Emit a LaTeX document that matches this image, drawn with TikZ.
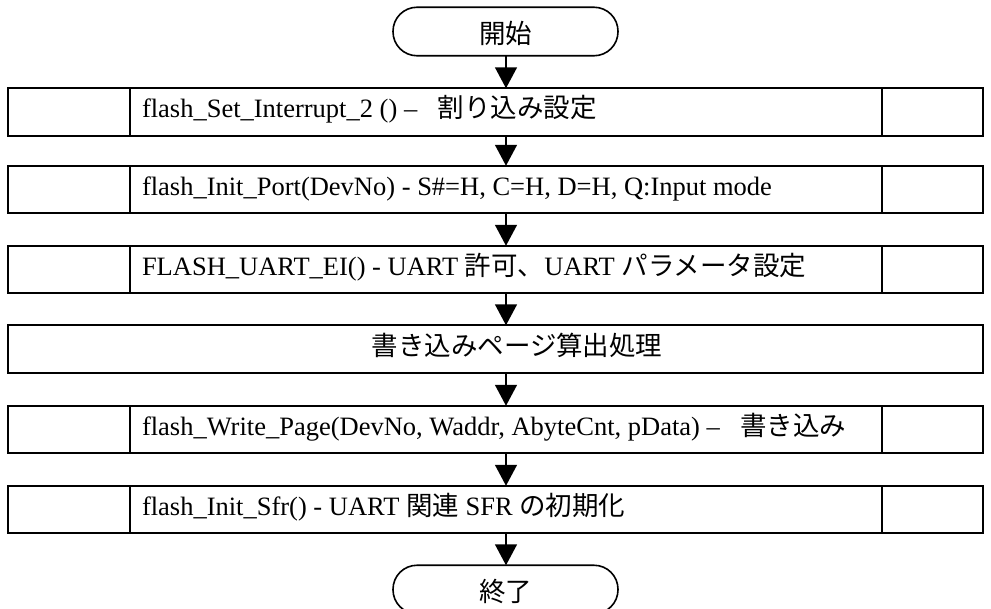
\documentclass[tikz,border=0pt]{standalone}
\usepackage{fontspec}
\setmainfont{Liberation Serif}
\newfontfamily\cjk{Noto Sans CJK JP}
\usetikzlibrary{arrows.meta}
\begin{document}
\begin{tikzpicture}[x=1pt,y=-1pt,
  every node/.style={inner sep=0pt,outer sep=0pt},
  rowbox/.style={draw,line width=1.6pt,minimum width=975pt,minimum height=47.5pt},
  term/.style={draw,line width=1.6pt,rounded corners=24pt,minimum width=225pt,minimum height=48.5pt},
  lbl/.style={anchor=base west,font=\fontsize{26.5pt}{30pt}\selectfont},
  clbl/.style={anchor=base,font=\fontsize{26.5pt}{30pt}\selectfont\cjk},
  arr/.style={line width=1.6pt,-{Triangle[width=22pt,length=21pt]}},
  divider/.style={line width=1.6pt}]
\useasboundingbox (0,0) rectangle (991,608);
\node[term] (start) at (505.5,31.5) {};
\node[clbl] (startt) at (505.5,43) {開始};
\node[rowbox] (b1) at (495.5,112) {};
\node[rowbox] (b2) at (495.5,189.5) {};
\node[rowbox] (b3) at (495.5,269.5) {};
\node[rowbox] (b4) at (495.5,349) {};
\node[rowbox] (b5) at (495.5,429.5) {};
\node[rowbox] (b6) at (495.5,509.5) {};
\node[term] (end) at (505.5,589.5) {};
\node[clbl] (endt) at (505.5,601) {終了};
\foreach \b in {b1,b2,b3,b5,b6}{
  \draw[divider] (\b.north west) ++(122,0) coordinate (l\b t) -- (\b.south west -| l\b t);
  \draw[divider] (\b.north east) ++(-101,0) coordinate (r\b t) -- (\b.south east -| r\b t);
}
\node[lbl] (t1) at (142,117.5) {flash\_Set\_Interrupt\_2 () – \hspace{14pt}{\cjk 割り込み設定}};
\node[lbl] (t2) at (142,195) {flash\_Init\_Port(DevNo) - S\#=H, C=H, D=H, Q:Input mode};
\node[lbl] (t3) at (142,275) {FLASH\_UART\_EI() - UART {\cjk 許可、}UART {\cjk パラメータ設定}};
\node[clbl] (t4) at (517,355) {書き込みページ算出処理};
\node[lbl] (t5) at (142,435) {flash\_Write\_Page(DevNo, Waddr, AbyteCnt, pData) – \hspace{14pt}{\cjk 書き込み}};
\node[lbl] (t6) at (142,515) {flash\_Init\_Sfr() - UART {\cjk 関連} SFR {\cjk の初期化}};
\draw[arr] (start.south -| 506,0) -- (b1.north -| 506,0);
\draw[arr] (b1.south -| 506,0) -- (b2.north -| 506,0);
\draw[arr] (b2.south -| 506,0) -- (b3.north -| 506,0);
\draw[arr] (b3.south -| 506,0) -- (b4.north -| 506,0);
\draw[arr] (b4.south -| 506,0) -- (b5.north -| 506,0);
\draw[arr] (b5.south -| 506,0) -- (b6.north -| 506,0);
\draw[arr] (b6.south -| 506,0) -- (end.north -| 506,0);
\end{tikzpicture}
\end{document}
